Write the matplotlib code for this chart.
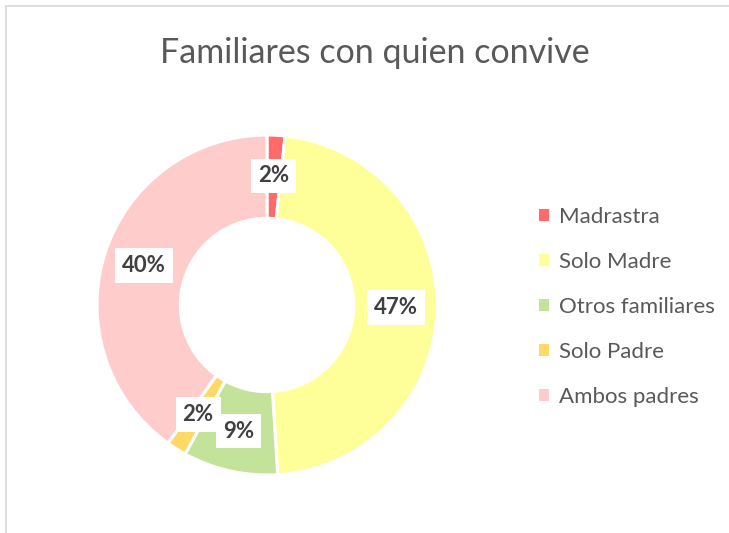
import matplotlib.pyplot as plt
from matplotlib.lines import Line2D
from matplotlib.patches import Patch
import numpy as np

categories = ['Madrastra', 'Solo Madre', 'Otros familiares', 'Solo Padre', 'Ambos padres']
values = [1.7, 47.3, 9.0, 1.9, 40.1]
colors = ['#FF6B6B', '#FFFF99', '#C3E39B', '#FFD966', '#FFCCCC']

W, H = 729, 533
fig = plt.figure(figsize=(W / 100, H / 100), dpi=100)
plt.rcParams['font.family'] = ['Lato', 'DejaVu Sans']

# frame lines of the chart area
fig.add_artist(Line2D([6 / W, 1], [1 - 6 / H, 1 - 6 / H], color='#D9D9D9', lw=1.2))
fig.add_artist(Line2D([6 / W, 6 / W], [0, 1 - 6 / H], color='#D9D9D9', lw=1.2))

cx, cy, r = 267, 305, 170
ax = fig.add_axes([(cx - r) / W, (H - cy - r) / H, 2 * r / W, 2 * r / H])
wedges, _ = ax.pie(values, colors=colors, startangle=90, counterclock=False,
                   radius=1, wedgeprops=dict(width=0.49, edgecolor='white', linewidth=2.2))
ax.set_xlim(-1, 1)
ax.set_ylim(-1, 1)
ax.set_aspect('equal')

total = sum(values)
for w, v in zip(wedges, values):
    mid = np.deg2rad((w.theta1 + w.theta2) / 2)
    rr = 0.76
    ax.text(rr * np.cos(mid), rr * np.sin(mid), '{:.0f}%'.format(v / total * 100),
            ha='center', va='center', fontsize=16, fontweight='bold', color='#404040',
            bbox=dict(facecolor='white', edgecolor='none', pad=5))

fig.text(375 / W, 1 - 53 / H, 'Familiares con quien convive', ha='center', va='center',
         fontsize=24.5, color='#595959')

handles = [Patch(facecolor=c, edgecolor='none') for c in colors]
leg = fig.legend(handles, categories, loc='upper left', bbox_to_anchor=(519 / W, 1 - 187 / H),
                 frameon=False, fontsize=16, handlelength=0.45, handleheight=0.45,
                 handletextpad=0.45, labelspacing=1.12, labelcolor='#595959')

fig.savefig('out.png', dpi=100)
